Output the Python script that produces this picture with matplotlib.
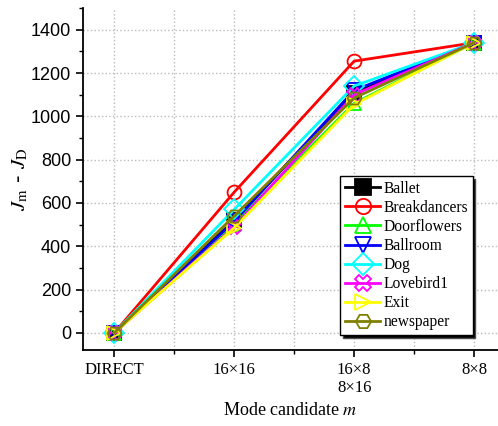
import matplotlib
matplotlib.use('Agg')
import matplotlib.pyplot as plt
from matplotlib.ticker import MultipleLocator

categories = ['DIRECT', '16×16', '16×8\n8×16', '8×8']
series = {
    'Ballet':       [0, 520, 1110, 1340],
    'Breakdancers': [0, 650, 1255, 1340],
    'Doorflowers':  [0, 505, 1060, 1340],
    'Ballroom':     [0, 515, 1120, 1340],
    'Dog':          [0, 570, 1140, 1340],
    'Lovebird1':    [0, 490, 1100, 1340],
    'Exit':         [0, 485, 1055, 1340],
    'newspaper':    [0, 540, 1085, 1340],
}
colors = ['black', 'red', '#00ff00', 'blue', 'cyan', 'magenta', 'yellow', '#808000']
markers = ['s', 'o', '^', 'v', 'D', 'X', '>', 'H']

plt.rcParams['mathtext.fontset'] = 'stix'

fig = plt.figure(figsize=(4.98, 4.26), dpi=100)
ax = fig.add_axes([0.167, 0.178, 0.833, 0.803])

x = list(range(len(categories)))
for (name, vals), c, m in zip(series.items(), colors, markers):
    fill = 'full' if name == 'Ballet' else 'none'
    ax.plot(x, vals, color=c, marker=m, markersize=10, fillstyle=fill,
            markeredgewidth=1.3, linewidth=2, label=name)

ax.set_xlim(-0.26, 3.2)
ax.set_ylim(-80, 1500)
ax.set_xticks(x)
ax.set_xticklabels(categories, family='Liberation Serif', fontsize=12)
ax.xaxis.set_minor_locator(MultipleLocator(0.5))
ax.yaxis.set_major_locator(MultipleLocator(200))
ax.yaxis.set_minor_locator(MultipleLocator(100))
for lab in ax.get_yticklabels():
    lab.set_family('Liberation Sans')
    lab.set_fontsize(13)
ax.tick_params(which='major', length=5, width=1.2, direction='out')
ax.tick_params(which='minor', length=3, width=1.0, direction='out')

ax.spines['top'].set_visible(False)
ax.spines['right'].set_visible(False)
ax.spines['left'].set_linewidth(1.3)
ax.spines['bottom'].set_linewidth(1.3)

ax.grid(True, axis='y', which='major', linestyle=':', color='#bbbbbb', linewidth=1)
ax.grid(True, axis='x', which='both', linestyle=':', color='#bbbbbb', linewidth=1)

ax.set_xlabel('Mode candidate $m$', family='Liberation Serif', fontsize=13)
ax.set_ylabel(r'$J_{\mathrm{m}}$ - $J_{\mathrm{D}}$', fontsize=15, labelpad=1)

leg = ax.legend(loc='upper left', bbox_to_anchor=(0.619, 0.509),
                prop={'family': 'Liberation Serif', 'size': 11.2},
                frameon=True, fancybox=False, edgecolor='black',
                shadow={'facecolor': 'black', 'alpha': 1},
                labelspacing=0.2, handlelength=2.3, handletextpad=0.2,
                borderpad=0.3, borderaxespad=0, markerscale=1.1)
leg.get_frame().set_linewidth(1)

fig.savefig('out.png', dpi=100)
